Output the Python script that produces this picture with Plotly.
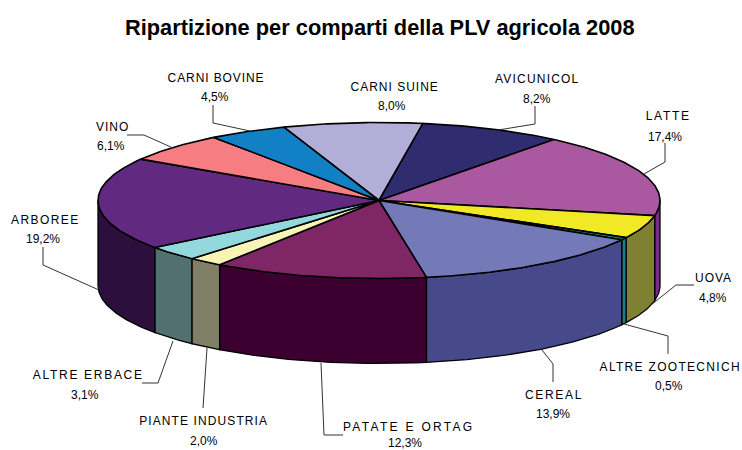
import json
import numpy as np
import plotly.graph_objects as go

# --- data, clockwise from the first slice ---
categories = ["CARNI SUINE", "AVICUNICOL", "LATTE", "UOVA", "ALTRE ZOOTECNICH", "CEREAL",
              "PATATE E ORTAG", "PIANTE INDUSTRIA", "ALTRE ERBACE", "ARBOREE", "VINO", "CARNI BOVINE"]
values = [8.0, 8.2, 17.4, 4.8, 0.5, 13.9, 12.3, 2.0, 3.1, 19.2, 6.1, 4.5]
top_colors = ["#B3AED8", "#302C70", "#AA589F", "#F2E926", "#1A9A9A", "#7479B8",
              "#7E2666", "#F8F4B8", "#92D8DC", "#612A80", "#F67D82", "#1280C4"]
side_colors = ["#5A5770", "#181638", "#7A2A90", "#808033", "#168080", "#464A8A",
               "#3C0030", "#808066", "#527070", "#2D0F3D", "#7B3F41", "#094062"]
title = "Ripartizione per comparti della PLV agricola 2008"

# --- layout of the drawing ---
CX, CY, RX, RY, DEPTH = 379, 200.5, 281, 78, 85
START_DEG = -19.8
label_pos = [(394, 87), (537, 79), (668, 116), (713, 278), (670, 367), (554, 395),
             (408, 427), (203, 421), (88, 375), (45, 220), (112, 127), (216, 78)]
pct_pos = [(392, 106), (537, 99), (665, 137), (713, 298), (669, 386), (553, 414),
           (405, 443), (204, 441), (85, 395), (43, 239), (111, 146), (215, 97)]
letter_spacing = [1.0, 1.2, 1.7, 1.0, 1.3, 1.7, 2.3, 1.1, 1.7, 1.4, 1.0, 0.9]
leaders = [None,
           [(535, 106), (535, 124), (498, 130)],
           [(665, 143), (665, 162), (644, 174)],
           [(694, 285), (676, 285), (651, 305)],
           [(668, 354), (668, 336), (624, 324)],
           [(553, 382), (553, 364), (542, 350)],
           [(343, 435), (324, 435), (321, 363)],
           [(203, 408), (207, 348)],
           [(142, 383), (158, 383), (173, 341)],
           [(43, 247), (43, 265), (99, 290)],
           [(127, 135), (144, 135), (173, 148)],
           [(213, 105), (213, 123), (250, 131)]]


def rim(deg, dy=0.0):
    a = np.radians(deg)
    return CX + RX * np.sin(a), CY - RY * np.cos(a) + dy


fig = go.Figure()
edges = START_DEG + np.concatenate([[0], np.cumsum(values)]) * 360 / sum(values)


def add_poly(xs, ys, color, width):
    fig.add_trace(go.Scatter(x=xs, y=ys, mode="lines", fill="toself", fillcolor=color,
                             line=dict(color="#000000", width=width), hoverinfo="skip", showlegend=False))


# front walls
for i in range(len(values)):
    a0, a1 = max(edges[i], 90), min(edges[i + 1], 270)
    if a1 <= a0:
        continue
    t = np.linspace(a0, a1, 60)
    xt, yt = rim(t)
    xb, yb = rim(t[::-1], DEPTH)
    add_poly(list(xt) + list(xb) + [xt[0]], list(yt) + list(yb) + [yt[0]], side_colors[i], 1.3)

# top slices
for i in range(len(values)):
    t = np.linspace(edges[i], edges[i + 1], max(int(values[i] * 6), 6))
    xt, yt = rim(t)
    add_poly([CX] + list(xt) + [CX], [CY] + list(yt) + [CY], top_colors[i], 1.6)

# leader lines
for pts in leaders:
    if pts:
        fig.add_trace(go.Scatter(x=[p[0] for p in pts], y=[p[1] for p in pts], mode="lines",
                                 line=dict(color="#333333", width=1), hoverinfo="skip", showlegend=False))

font = dict(family="Liberation Sans, Arial, sans-serif", color="#000000", size=12)
annotations = []
for name, v, lp, pp in zip(categories, values, label_pos, pct_pos):
    annotations.append(dict(x=lp[0], y=lp[1], text=name, showarrow=False, font=font,
                            xref="x", yref="y", xanchor="center", yanchor="middle"))
    annotations.append(dict(x=pp[0], y=pp[1], text=f"{v:.1f}".replace(".", ",") + "%", showarrow=False, font=font,
                            xref="x", yref="y", xanchor="center", yanchor="middle"))
annotations.append(dict(x=380, y=27, text=f"<b>{title}</b>", showarrow=False,
                        font=dict(family="Liberation Sans, Arial, sans-serif", size=21.8, color="#000000"),
                        xref="x", yref="y", xanchor="center", yanchor="middle"))

fig.update_layout(width=742, height=450, margin=dict(l=0, r=0, t=0, b=0), paper_bgcolor="#FFFFFF",
                  plot_bgcolor="#FFFFFF", annotations=annotations, showlegend=False,
                  xaxis=dict(range=[0, 742], visible=False, fixedrange=True),
                  yaxis=dict(range=[450, 0], visible=False, fixedrange=True))

spacing = json.dumps(dict(zip(categories, letter_spacing)))
post = """
document.body.style.margin = '0';
var spacing = %s;
document.querySelectorAll('.annotation-text').forEach(function (t) {
  var s = spacing[t.textContent];
  if (s !== undefined) { t.style.letterSpacing = s + 'px'; }
});
""" % spacing
fig.write_html("out.html", post_script=post, config={"displayModeBar": False})
